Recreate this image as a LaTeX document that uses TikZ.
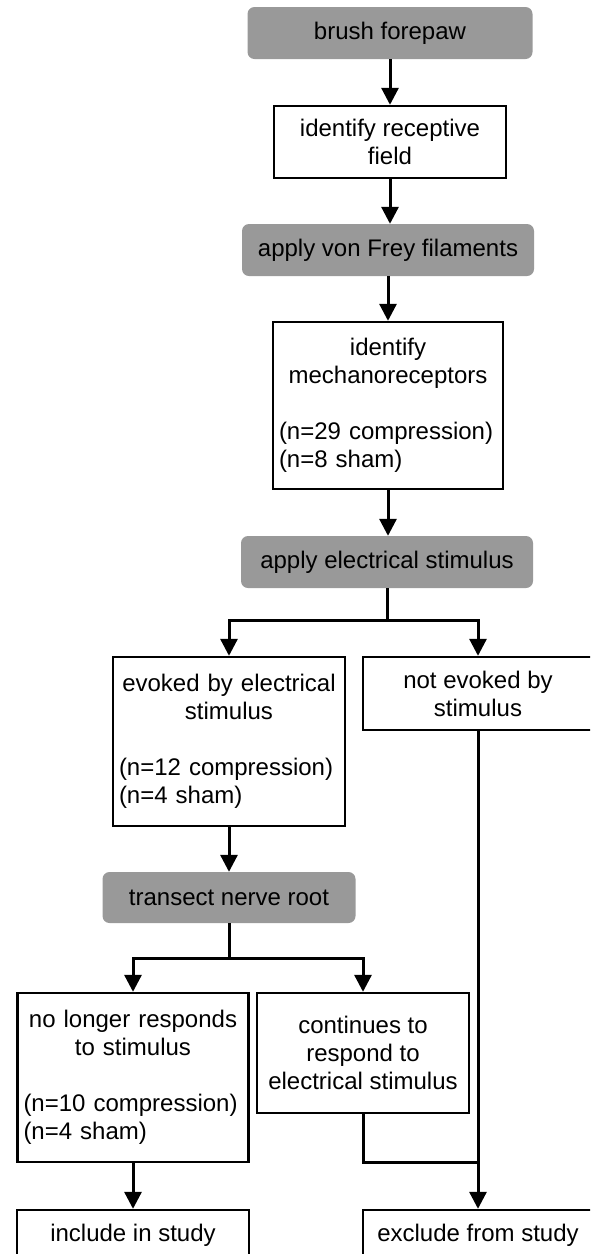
\documentclass[tikz,border=0pt]{standalone}
\usepackage{fontspec}
\setmainfont{Liberation Sans}
\usetikzlibrary{arrows.meta}
\definecolor{boxgray}{RGB}{153,153,153}
\begin{document}
\begin{tikzpicture}[x=1pt,y=-1pt,
  every node/.style={font=\fontsize{24}{28}\selectfont, text=black},
  wbox/.style={draw=black, line width=2.4pt, fill=white, inner xsep=6pt, inner ysep=0pt},
  gbox/.style={fill=boxgray, draw=none, rounded corners=7pt, inner sep=0pt},
  conn/.style={line width=3pt, draw=black},
  arr/.style={conn, -{Triangle[width=17pt,length=17pt]}}
]
\useasboundingbox (0,0) rectangle (590,1254);
\clip (0,0) rectangle (590,1254);

% top column
\node[gbox, minimum width=285, minimum height=52] (brush) at (390,33) {brush forepaw};
\node[wbox, minimum width=232, minimum height=72, align=center] (field) at (390,142) {identify receptive\\field};
\node[gbox, minimum width=292, minimum height=52] (frey) at (388,250) {apply von Frey filaments};
\node[wbox, minimum width=230, minimum height=167, text width=218] (mech) at (388,405.5)
  {\centering\strut identify\\\strut mechanoreceptors\\\strut\par\raggedright\strut(n=29 compression)\\\strut(n=8 sham)\par};
\node[gbox, minimum width=292, minimum height=52] (elec) at (387,562) {apply electrical stimulus};

% second level
\node[wbox, minimum width=232, minimum height=169, text width=220] (evoked) at (229,741.5)
  {\centering\strut evoked by electrical\\\strut stimulus\\\strut\par\raggedright\strut(n=12 compression)\\\strut(n=4 sham)\par};
\node[wbox, minimum width=230, minimum height=73, align=center] (notev) at (478,693.5) {not evoked by\\stimulus};

\node[gbox, minimum width=253, minimum height=51] (transect) at (229,897.5) {transect nerve root};

% third level
\node[wbox, minimum width=231, minimum height=169, text width=219] (nolonger) at (133,1077.5)
  {\centering\strut no longer responds\\\strut to stimulus\\\strut\par\raggedright\strut(n=10 compression)\\\strut(n=4 sham)\par};
\node[wbox, minimum width=212, minimum height=120, align=center] (cont) at (363,1053) {continues to\\respond to\\electrical stimulus};

% bottom
\node[wbox, minimum width=232, minimum height=50] (incl) at (133,1235) {include in study};
\node[wbox, minimum width=230, minimum height=50] (excl) at (478,1235) {exclude from study};

% connectors
\draw[arr] (brush.south) -- (brush.south |- field.north);
\draw[arr] (field.south) -- (field.south |- frey.north);
\draw[arr] (frey.south) -- (frey.south |- mech.north);
\draw[arr] (mech.south) -- (mech.south |- elec.north);

\coordinate (s1) at (387,620);
\draw[conn] (elec.south) -- (s1);
\draw[arr] (s1) -| (evoked.north);
\draw[arr] (s1) -| (notev.north);

\draw[arr] (evoked.south) -- (transect.north);

\coordinate (s2) at (229,958);
\draw[conn] (transect.south) -- (s2);
\draw[arr] (s2) -| (nolonger.north);
\draw[arr] (s2) -| (cont.north);

\draw[arr] (nolonger.south) -- (incl.north);
\draw[arr] (notev.south) -- (excl.north);
\coordinate (j) at (478,1162);
\draw[conn] (cont.south) |- (j);
\end{tikzpicture}
\end{document}
